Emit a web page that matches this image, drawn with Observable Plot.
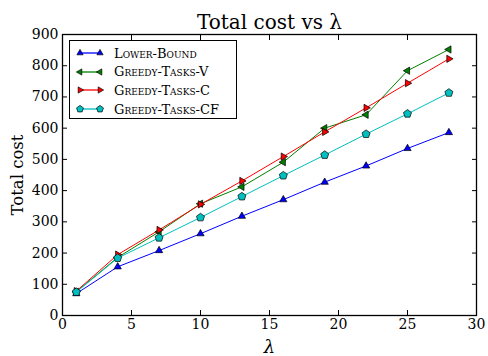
<!DOCTYPE html>
<html><head><meta charset="utf-8">
<script src="https://cdn.jsdelivr.net/npm/d3@7"></script>
<script src="https://cdn.jsdelivr.net/npm/@observablehq/plot@0.6"></script>
<style>
body{margin:0;background:#fff;}
#wrap{position:relative;width:488px;height:356px;font-family:'DejaVu Serif',serif;}
#wrap svg text{font-family:'DejaVu Serif',serif;}
#legend{position:absolute;left:69px;top:40px;width:168px;height:79px;border:1px solid #000;background:#fff;box-sizing:border-box;padding-top:3px;padding-left:4px}
.row{display:flex;align-items:center;height:18.6px;font-variant:small-caps;font-size:13px;color:#000;font-family:'DejaVu Serif',serif}
.row svg{margin-right:6px}
</style></head>
<body><div id="wrap"><div id="chart"></div><div id="legend"></div></div>
<script>
const lambdas = [1, 4, 7, 10, 13, 16, 19, 22, 25, 28];
const lowerBound = [70, 156, 208, 262, 318, 371, 427, 479, 535, 586];
const greedyV = [76, 186, 268, 358, 412, 491, 600, 643, 784, 852];
const greedyC = [78, 195, 274, 356, 431, 509, 588, 665, 744, 822];
const greedyCF = [75, 184, 249, 314, 381, 448, 514, 581, 646, 713];
const seriesNames = ["Lower-Bound", "Greedy-Tasks-V", "Greedy-Tasks-C", "Greedy-Tasks-CF"];
const seriesColors = ["#0000ff", "#008000", "#ff0000", "#00bfbf"];
const xTicks = [0, 5, 10, 15, 20, 25, 30];
const yTicks = [0, 100, 200, 300, 400, 500, 600, 700, 800, 900];
const titleText = "Total cost vs λ";
const xLabel = "λ";
const yLabel = "Total cost";

function poly(pts) {
  return {draw(ctx, size) {
    const s = Math.sqrt(size / Math.PI);
    pts.forEach(([a, b], i) => i ? ctx.lineTo(a * s, b * s) : ctx.moveTo(a * s, b * s));
    ctx.closePath();
  }};
}
const k = Math.sqrt(3) / 2;
const symUp = poly([[0, -1], [k, 0.5], [-k, 0.5]]);
const symLeft = poly([[-1, 0], [0.5, -k], [0.5, k]]);
const symRight = poly([[1, 0], [-0.5, -k], [-0.5, k]]);
const symPent = poly(d3.range(5).map(i => {const a = -Math.PI / 2 + i * 2 * Math.PI / 5; return [Math.cos(a), Math.sin(a)];}));
const symbols = [symUp, symLeft, symRight, symPent];

const allSeries = [lowerBound, greedyV, greedyC, greedyCF];
const rows = [];
allSeries.forEach((vals, si) => vals.forEach((v, i) => rows.push({s: si, x: lambdas[i], y: v})));

const marks = [];
allSeries.forEach((vals, si) => {
  const data = rows.filter(r => r.s === si);
  marks.push(Plot.line(data, {x: "x", y: "y", stroke: seriesColors[si], strokeWidth: 1}));
});
allSeries.forEach((vals, si) => {
  const data = rows.filter(r => r.s === si);
  marks.push(Plot.dot(data, {x: "x", y: "y", symbol: symbols[si], r: 4.2, fill: seriesColors[si], stroke: "#000", strokeWidth: 0.7}));
});

const chart = Plot.plot({
  width: 488, height: 356,
  marginLeft: 62, marginRight: 12, marginTop: 34, marginBottom: 41,
  style: {fontFamily: "'DejaVu Serif', serif", fontSize: "14px", color: "#000", background: "#fff"},
  x: {domain: [0, 30], label: null},
  y: {domain: [0, 900], label: null},
  marks: [
    ...marks,
    Plot.frame({stroke: "#000", strokeWidth: 1.3}),
    Plot.axisX({ticks: xTicks, anchor: "bottom", tickSize: -5, tickPadding: 9, label: null}),
    Plot.axisX({ticks: xTicks, anchor: "top", tickSize: -5, tickFormat: () => "", label: null}),
    Plot.axisY({ticks: yTicks, anchor: "left", tickSize: -5, tickPadding: 9, label: null}),
    Plot.axisY({ticks: yTicks, anchor: "right", tickSize: -5, tickFormat: () => "", label: null}),
    Plot.text([titleText], {text: d => d, frameAnchor: "top", dy: -6, lineAnchor: "bottom", fontSize: 20}),
    Plot.text([xLabel], {text: d => d, frameAnchor: "bottom", dy: 37, lineAnchor: "bottom", fontStyle: "italic", fontSize: 18}),
    Plot.text([yLabel], {text: d => d, frameAnchor: "left", textAnchor: "middle", lineAnchor: "middle", dx: -45, rotate: -90, fontSize: 16.5})
  ]
});
document.getElementById("chart").appendChild(chart);

const legend = document.getElementById("legend");
seriesNames.forEach((name, si) => {
  const row = document.createElement("div");
  row.className = "row";
  const svg = d3.create("svg").attr("width", 34).attr("height", 12);
  svg.append("line").attr("x1", 6).attr("x2", 26).attr("y1", 6).attr("y2", 6).attr("stroke", seriesColors[si]).attr("stroke-width", 1.3);
  [6, 26].forEach(cx => svg.append("path").attr("transform", `translate(${cx},6)`)
    .attr("d", d3.symbol(symbols[si], 3.6 * 3.6 * Math.PI)()).attr("fill", seriesColors[si]).attr("stroke", "#000").attr("stroke-width", 0.7));
  row.appendChild(svg.node());
  const span = document.createElement("span");
  span.textContent = name;
  row.appendChild(span);
  legend.appendChild(row);
});
</script></body></html>
